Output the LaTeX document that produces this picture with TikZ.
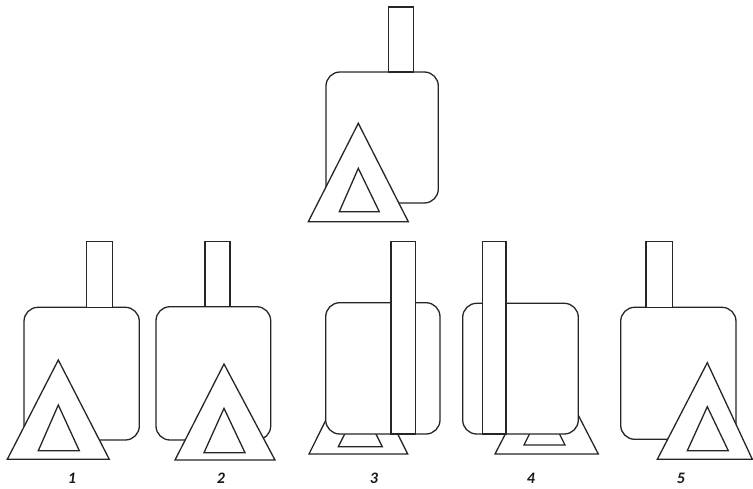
\documentclass[tikz,border=0pt]{standalone}
\usepackage{fontspec}
\setmainfont{Carlito}
\begin{document}
\begin{tikzpicture}[x=1pt,y=-1pt, line width=1.3pt, line join=miter,
  part/.style={draw=black!85, fill=white},
  body/.style={part, rounded corners=14pt},
  lbl/.style={font=\fontsize{16}{16}\selectfont\bfseries\itshape, text=black!90, inner sep=0pt}]
\useasboundingbox (0,0) rectangle (753,488);
% top figure
\draw[body] (326,72) rectangle (438.3,203);
\draw[part] (388.3,7) rectangle (413.3,72);
\draw[part] (358.3,123.3) -- (408.3,221.7) -- (308.3,221.7) -- cycle;
\draw[part] (358.3,168.3) -- (379.3,211.7) -- (339.3,211.7) -- cycle;
% figure 1
\draw[body] (24,307.3) rectangle (139.3,440);
\draw[part] (86.7,241.7) rectangle (112.7,307.3);
\draw[part] (58.3,360) -- (109.3,459.3) -- (7.3,459.3) -- cycle;
\draw[part] (58.3,405) -- (79.3,450.7) -- (38.3,450.7) -- cycle;
\node[lbl] (l1) at (72,478) {1};
% figure 2
\draw[body] (156,306.7) rectangle (270.7,440);
\draw[part] (205,241.7) rectangle (230,306.7);
\draw[part] (224,364) -- (275,460) -- (175,460) -- cycle;
\draw[part] (224,408.3) -- (245,452.7) -- (204,452.7) -- cycle;
\node[lbl] (l2) at (221,478) {2};
% figure 3
\draw[part] (358.3,355) -- (407.7,454) -- (309,454) -- cycle;
\draw[part] (360.3,403) -- (382.3,446.7) -- (338.3,446.7) -- cycle;
\draw[body] (325.7,302.7) rectangle (440,434);
\draw[part] (391,241.7) rectangle (415.7,434);
\node[lbl] (l3) at (374,478) {3};
% figure 4
\draw[part] (546.7,354) -- (598.3,454) -- (495,454) -- cycle;
\draw[part] (544.5,404) -- (565,445) -- (524,445) -- cycle;
\draw[body] (462.7,303.3) rectangle (578.3,434);
\draw[part] (482.3,241.7) rectangle (506,434);
\node[lbl] (l4) at (531,478) {4};
% figure 5
\draw[body] (620.7,307.3) rectangle (736,439.3);
\draw[part] (646,241.7) rectangle (672.7,307.3);
\draw[part] (707.3,362.7) -- (752.3,459.3) -- (657.3,459.3) -- cycle;
\draw[part] (707.3,406.7) -- (728.3,450.7) -- (687.3,450.7) -- cycle;
\node[lbl] (l5) at (681,478) {5};
\end{tikzpicture}
\end{document}
